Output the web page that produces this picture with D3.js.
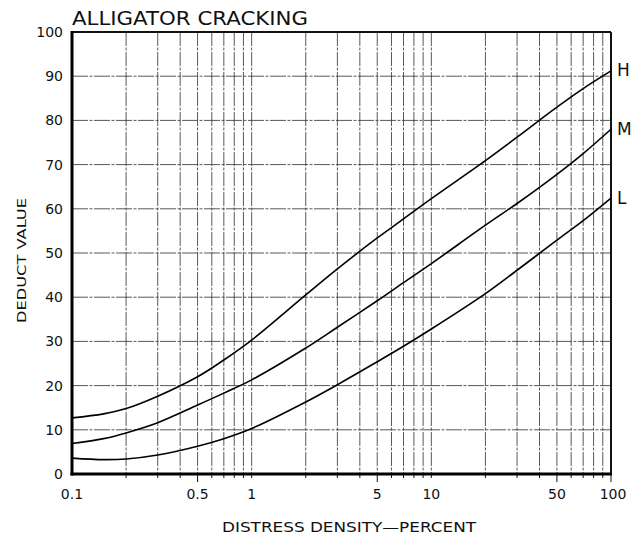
<!DOCTYPE html>
<html><head><meta charset="utf-8">
<script src="https://cdn.jsdelivr.net/npm/d3@7"></script>
<style>body{margin:0;background:#fff}svg{display:block}text{font-family:"DejaVu Sans",sans-serif;fill:#111}</style>
</head><body><svg id="c" width="640" height="538"></svg>
<script>
const density = [0.1, 0.15, 0.2, 0.3, 0.5, 0.7, 1, 2, 3, 5, 7, 10, 20, 30, 50, 70, 100];
const highValues = [12.7, 13.6, 14.8, 17.6, 22.0, 25.8, 30.3, 40.5, 46.4, 53.4, 57.7, 62.3, 70.9, 76.2, 83, 87.2, 91.2];
const mediumValues = [6.9, 8.0, 9.3, 11.6, 15.6, 18.3, 21.3, 28.5, 33.2, 39.2, 43.3, 47.6, 56.3, 61.2, 67.8, 72.5, 78];
const lowValues = [3.6, 3.25, 3.4, 4.3, 6.3, 8.0, 10.3, 16.3, 20.2, 25.4, 28.9, 32.8, 40.8, 46.1, 52.9, 57.3, 62.4];
const seriesLabels = ["H", "M", "L"];
const xTickLabels = [0.1, 0.5, 1, 5, 10, 50, 100];
const yTickLabels = [0, 10, 20, 30, 40, 50, 60, 70, 80, 90, 100];
const xGrid = [0.2,0.3,0.4,0.5,0.6,0.7,0.8,0.9,1,2,3,4,5,6,7,8,9,10,20,30,40,50,60,70,80,90];

const svg = d3.select("#c");
const L = 72, R = 611, T = 32, B = 474;
const x = d3.scaleLog().domain([0.1, 100]).range([L, R]);
const y = d3.scaleLinear().domain([0, 100]).range([B, T]);

// grid
const g = svg.append("g");
g.selectAll("line.v").data(xGrid).join("line")
  .attr("x1", d => x(d)).attr("x2", d => x(d)).attr("y1", T).attr("y2", B)
  .attr("stroke", "#3a3a3a").attr("stroke-width", 0.85).attr("stroke-dasharray", "14,1.5,3,1.5");
g.selectAll("line.h").data(yTickLabels.filter(d => d > 0 && d < 100)).join("line")
  .attr("x1", L).attr("x2", R).attr("y1", d => y(d)).attr("y2", d => y(d))
  .attr("stroke", "#3a3a3a").attr("stroke-width", 0.85).attr("stroke-dasharray", "16,1.5,3,1.5");

// bottom ticks
svg.append("g").selectAll("line").data(xGrid.concat([100])).join("line")
  .attr("x1", d => x(d)).attr("x2", d => x(d)).attr("y1", B)
  .attr("y2", d => ([0.5,5,50,100].includes(d) ? B + 8 : B + 4))
  .attr("stroke", "#111").attr("stroke-width", 1);

// frame
svg.append("line").attr("x1", L).attr("x2", R).attr("y1", T).attr("y2", T).attr("stroke", "#111").attr("stroke-width", 2);
svg.append("line").attr("x1", R).attr("x2", R).attr("y1", T).attr("y2", B).attr("stroke", "#111").attr("stroke-width", 2);
svg.append("line").attr("x1", L).attr("x2", L).attr("y1", T - 1).attr("y2", B + 1.5).attr("stroke", "#000").attr("stroke-width", 3);
svg.append("line").attr("x1", L - 1.5).attr("x2", R + 1).attr("y1", B).attr("y2", B).attr("stroke", "#000").attr("stroke-width", 3);

// y labels
svg.append("g").selectAll("text").data(yTickLabels).join("text")
  .attr("x", 63).attr("y", d => y(d) + 5).attr("text-anchor", "end")
  .attr("font-size", 14).text(d => d);

// x labels
svg.append("g").selectAll("text").data(xTickLabels).join("text")
  .attr("x", d => x(d) + (d === 100 ? 2 : 0)).attr("y", 499).attr("text-anchor", "middle")
  .attr("font-size", 14).text(d => d);

// curves
const line = d3.line().x(d => x(d[0])).y(d => y(d[1])).curve(d3.curveCatmullRom.alpha(0.5));
[highValues, mediumValues, lowValues].forEach((vals, i) => {
  svg.append("path").datum(density.map((d, j) => [d, vals[j]]))
    .attr("d", line).attr("fill", "none").attr("stroke", "#000").attr("stroke-width", 1.6);
  svg.append("text").attr("x", R + 6).attr("y", y(vals[vals.length - 1]) + 6 - (i === 0 ? 1 : 0))
    .attr("font-size", 17).text(seriesLabels[i]);
});

// titles
svg.append("text").attr("x", 72).attr("y", 25).attr("font-size", 20)
  .attr("textLength", 236).attr("lengthAdjust", "spacingAndGlyphs").text("ALLIGATOR CRACKING");
svg.append("text").attr("x", 222).attr("y", 532).attr("font-size", 14)
  .attr("textLength", 254).attr("lengthAdjust", "spacingAndGlyphs").text("DISTRESS DENSITY\u2014PERCENT");
svg.append("text").attr("transform", "translate(26,323) rotate(-90)").attr("font-size", 13)
  .attr("textLength", 125).attr("lengthAdjust", "spacingAndGlyphs").text("DEDUCT VALUE");
</script></body></html>
